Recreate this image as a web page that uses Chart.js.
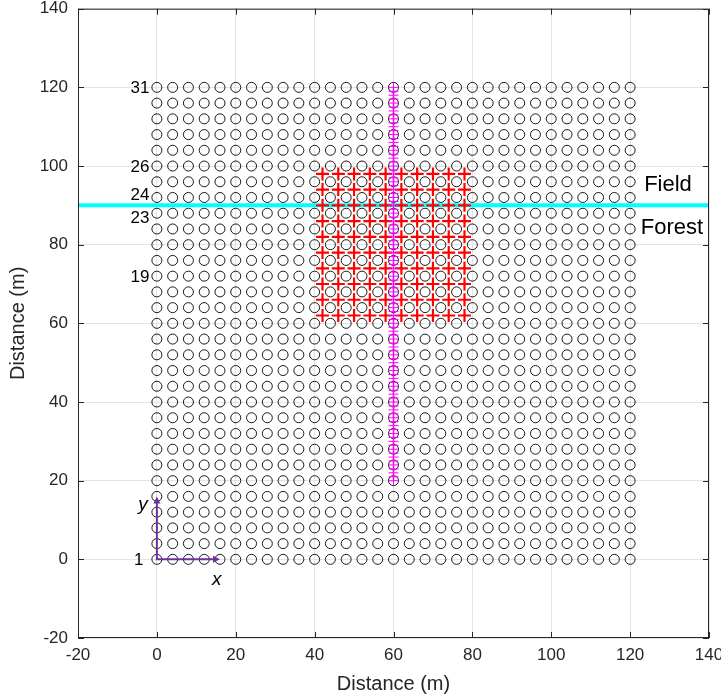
<!DOCTYPE html>
<html lang="en">
<head>
    <meta charset="UTF-8">
    <title>Sampling Layout</title>
    <style>
        body { margin: 0; padding: 0; background: #fff; }
        #wrap { width: 721px; height: 696px; }
    </style>
    <script src="https://cdn.jsdelivr.net/npm/chart.js"></script>
</head>
<body>
<div id="wrap"><canvas id="chart" width="721" height="696"></canvas></div>
<script>
    // Sampling grid positions (m)
    const gridCoords = [0, 4, 8, 12, 16, 20, 24, 28, 32, 36, 40, 44, 48, 52, 56, 60,
        64, 68, 72, 76, 80, 84, 88, 92, 96, 100, 104, 108, 112, 116, 120];
    // Denser sub-plot (red crosses)
    const subX = [42, 46, 50, 54, 58, 62, 66, 70, 74, 78];
    const subY = [62, 66, 70, 74, 78, 82, 86, 90, 94, 98];
    // Transect along x = 60
    const transectX = 60;
    const transectY = [20, 21, 22, 23, 24, 25, 26, 27, 28, 29, 30, 31, 32, 33, 34, 35, 36, 37, 38, 39,
        40, 41, 42, 43, 44, 45, 46, 47, 48, 49, 50, 51, 52, 53, 54, 55, 56, 57, 58, 59,
        60, 61, 62, 63, 64, 65, 66, 67, 68, 69, 70, 71, 72, 73, 74, 75, 76, 77, 78, 79,
        80, 81, 82, 83, 84, 85, 86, 87, 88, 89, 90, 91, 92, 93, 94, 95, 96, 97, 98, 99,
        100, 101, 102, 103, 104, 105, 106, 107, 108, 109, 110, 111, 112, 113, 114, 115, 116, 117, 118, 119, 120];
    // Field / forest edge
    const edgeY = 90;
    const edgeX = [-20, 140];
    // Row numbers shown at the left of the grid
    const rowLabels = ['31', '26', '24', '23', '19', '1'];
    const rowLabelY = [120, 100, 92, 88, 72, 0];
    // Axis ticks
    const axisTicks = [-20, 0, 20, 40, 60, 80, 100, 120, 140];
    // Local axes arrows
    const arrowLen = 16;

    const FONT = 'Helvetica, Arial, "Liberation Sans", sans-serif';

    const gridPts = [];
    gridCoords.forEach(y => gridCoords.forEach(x => gridPts.push({ x: x, y: y })));
    const subPts = [];
    subY.forEach(y => subX.forEach(x => subPts.push({ x: x, y: y })));
    const transectPts = transectY.map(y => ({ x: transectX, y: y }));
    const edgePts = edgeX.map(x => ({ x: x, y: edgeY }));

    // Extra drawing: inward ticks, annotations and the x/y arrows
    const extras = {
        id: 'extras',
        afterDatasetsDraw(chart) {
            const ctx = chart.ctx;
            const xs = chart.scales.x, ys = chart.scales.y;
            const a = chart.chartArea;
            ctx.save();

            // arrows
            const ox = xs.getPixelForValue(0), oy = ys.getPixelForValue(0);
            const ax = xs.getPixelForValue(arrowLen), ay = ys.getPixelForValue(arrowLen);
            ctx.strokeStyle = '#7030a0';
            ctx.fillStyle = '#7030a0';
            ctx.lineWidth = 2;
            ctx.beginPath();
            ctx.moveTo(ax - 4, oy); ctx.lineTo(ox, oy); ctx.lineTo(ox, ay + 4);
            ctx.stroke();
            ctx.beginPath();
            ctx.moveTo(ax, oy); ctx.lineTo(ax - 7, oy - 3.5); ctx.lineTo(ax - 7, oy + 3.5); ctx.closePath();
            ctx.fill();
            ctx.beginPath();
            ctx.moveTo(ox, ay); ctx.lineTo(ox - 3.5, ay + 7); ctx.lineTo(ox + 3.5, ay + 7); ctx.closePath();
            ctx.fill();

            // row numbers (the "1" sits a little further left, 24/23 spread apart)
            ctx.fillStyle = '#000';
            ctx.font = '17px ' + FONT;
            ctx.textAlign = 'right';
            ctx.textBaseline = 'middle';
            rowLabels.forEach((t, i) => {
                const lx = t === '1' ? -3.4 : -1.9;
                let dy = 1;
                if (t === '24') dy = -2;
                if (t === '23') dy = 5;
                ctx.fillText(t, xs.getPixelForValue(lx), ys.getPixelForValue(rowLabelY[i]) + dy);
            });

            // axis letters
            ctx.font = 'italic 19px ' + FONT;
            ctx.textAlign = 'center';
            ctx.fillText('x', xs.getPixelForValue(15.2), ys.getPixelForValue(-5.3));
            ctx.fillText('y', xs.getPixelForValue(-3.5), ys.getPixelForValue(13.8));

            // field / forest
            ctx.font = '22px ' + FONT;
            ctx.fillText('Field', xs.getPixelForValue(129.6), ys.getPixelForValue(95.3));
            ctx.fillText('Forest', xs.getPixelForValue(130.6), ys.getPixelForValue(84.3));

            // frame and inward ticks
            ctx.strokeStyle = '#262626';
            ctx.lineWidth = 1;
            ctx.strokeRect(a.left + 0.5, a.top + 0.5, a.right - a.left - 1, a.bottom - a.top - 1);
            ctx.beginPath();
            axisTicks.forEach(v => {
                const px = Math.round(xs.getPixelForValue(v)) + 0.5;
                ctx.moveTo(px, a.bottom); ctx.lineTo(px, a.bottom - 6);
                ctx.moveTo(px, a.top); ctx.lineTo(px, a.top + 6);
                const py = Math.round(ys.getPixelForValue(v)) + 0.5;
                ctx.moveTo(a.left, py); ctx.lineTo(a.left + 6, py);
                ctx.moveTo(a.right, py); ctx.lineTo(a.right - 6, py);
            });
            ctx.stroke();
            ctx.restore();
        }
    };

    new Chart(document.getElementById('chart').getContext('2d'), {
        type: 'scatter',
        data: {
            datasets: [
                {
                    label: 'Transect',
                    data: transectPts,
                    showLine: true,
                    borderColor: '#ff00ff',
                    backgroundColor: '#ff00ff',
                    borderWidth: 1.5,
                    pointStyle: 'cross',
                    pointRadius: 5,
                    pointBorderWidth: 1,
                    order: 1
                },
                {
                    label: 'Sub-plot',
                    data: subPts,
                    borderColor: '#ff0000',
                    backgroundColor: '#ff0000',
                    pointStyle: 'cross',
                    pointRadius: 6.5,
                    pointBorderWidth: 2.2,
                    order: 2
                },
                {
                    label: 'Edge',
                    data: edgePts,
                    showLine: true,
                    borderColor: '#00ffff',
                    borderWidth: 4,
                    pointRadius: 0,
                    order: 3
                },
                {
                    label: 'Grid',
                    data: gridPts,
                    borderColor: '#000',
                    backgroundColor: 'rgba(0,0,0,0)',
                    pointStyle: 'circle',
                    pointRadius: 5,
                    pointBorderWidth: 0.9,
                    order: 4
                }
            ]
        },
        options: {
            responsive: false,
            animation: false,
            events: [],
            layout: { padding: { left: 0, right: 12, top: 8, bottom: 0 } },
            plugins: { legend: { display: false }, tooltip: { enabled: false } },
            scales: {
                x: {
                    type: 'linear',
                    min: -20, max: 140,
                    afterBuildTicks: s => { s.ticks = axisTicks.map(v => ({ value: v })); },
                    afterFit: s => { s.height = 58; s.paddingLeft = 0; s.paddingRight = 0; },
                    grid: { color: '#e4e4e4', drawTicks: false },
                    border: { display: false },
                    ticks: { color: '#262626', font: { family: FONT, size: 17 }, padding: 7, maxRotation: 0 },
                    title: { display: true, text: 'Distance (m)', color: '#262626', font: { family: FONT, size: 20 }, padding: { top: 0, bottom: 0 } }
                },
                y: {
                    type: 'linear',
                    min: -20, max: 140,
                    afterBuildTicks: s => { s.ticks = axisTicks.map(v => ({ value: v })); },
                    afterFit: s => { s.width = 78; s.paddingTop = 0; s.paddingBottom = 0; },
                    grid: { color: '#e4e4e4', drawTicks: false },
                    border: { display: false },
                    ticks: { color: '#262626', font: { family: FONT, size: 17 }, padding: 10 },
                    title: { display: true, text: 'Distance (m)', color: '#262626', font: { family: FONT, size: 20 }, padding: { top: 6, bottom: 4 } }
                }
            }
        },
        plugins: [extras]
    });
</script>
</body>
</html>
